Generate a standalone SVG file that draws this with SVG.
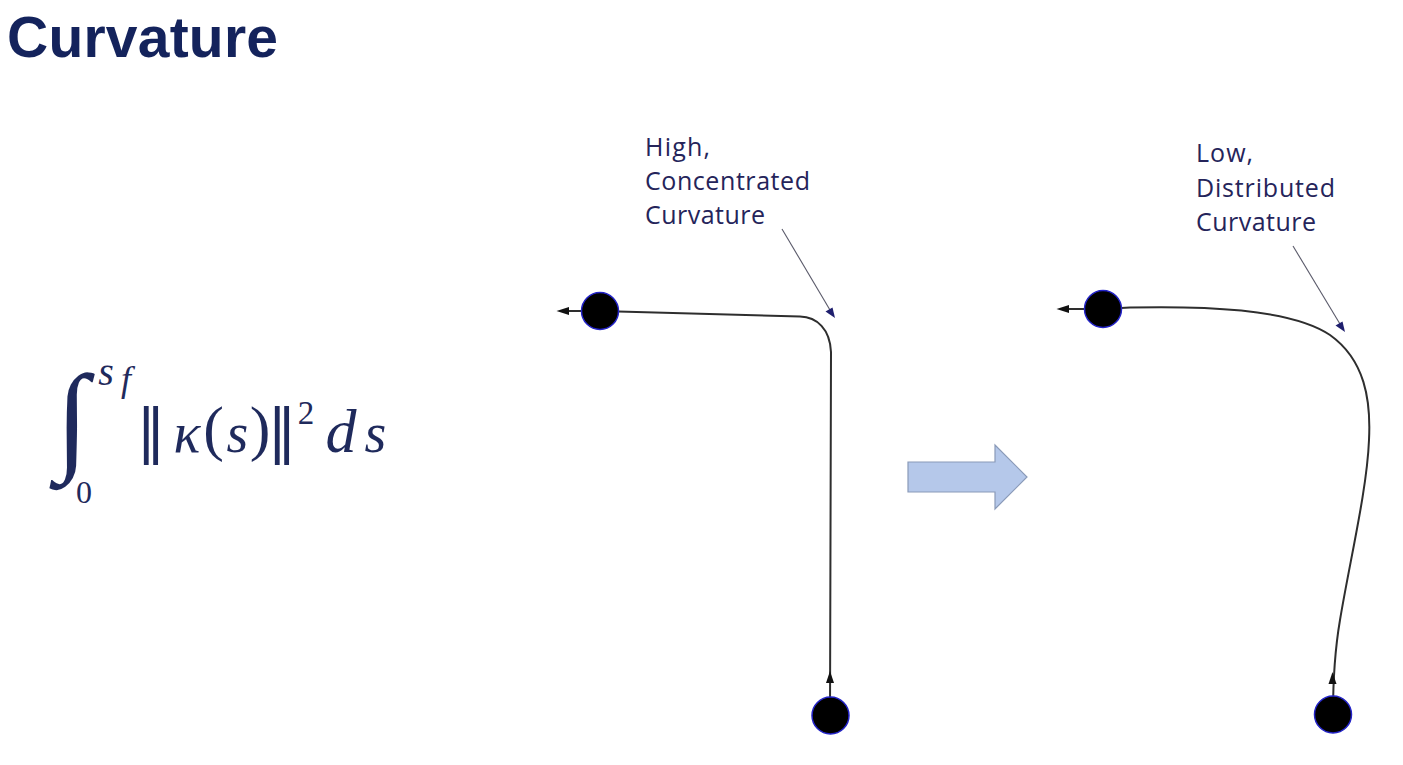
<svg xmlns="http://www.w3.org/2000/svg" width="1403" height="765" viewBox="0 0 1403 765">
<style>
.title{font-family:"Liberation Sans",Arial,sans-serif;font-weight:bold;font-size:57px;fill:#14235c}
.lbl{font-family:"Open Sans","Liberation Sans",Arial,sans-serif;font-size:25px;fill:#25245a}
.m{font-family:"Liberation Serif","DejaVu Serif",serif;font-size:56px;fill:#1f2a5c;text-anchor:middle}
.mi{font-style:italic}
.bar{font-family:"DejaVu Sans",sans-serif;font-size:58px}
.curve{fill:none;stroke:#2e2e2e;stroke-width:2}
.ptr{fill:none;stroke:#5a5a6a;stroke-width:1.1}
.ptrhead{fill:#1f1f6e}
.head{fill:#111}
.dot{fill:#000;stroke:#2424c8;stroke-width:1.5}
</style>
<rect width="1403" height="765" fill="#fff"/>
<text class="title" x="7" y="57" textLength="271">Curvature</text>

<g id="formula">
<text class="m" x="72" y="458" style="font-size:120px">∫</text>
<text class="m mi" x="106" y="385" style="font-size:40px">s</text>
<text class="m mi" x="126" y="391" style="font-size:36px">f</text>
<text class="m" x="84" y="503" style="font-size:32px">0</text>
<text class="m bar" x="151" y="451">‖</text>
<text class="m mi" x="187" y="452">κ</text>
<text class="m" x="213.5" y="449" style="font-size:62px">(</text>
<text class="m mi" x="237.5" y="452">s</text>
<text class="m" x="260" y="449" style="font-size:62px">)</text>
<text class="m bar" x="282" y="451">‖</text>
<text class="m" x="306" y="424" style="font-size:33px">2</text>
<text class="m mi" x="341" y="452" style="font-size:62px">d</text>
<text class="m mi" x="375.5" y="452">s</text>
</g>

<g id="labels">
<text class="lbl" x="645" y="156" textLength="65">High,</text>
<text class="lbl" x="645" y="190" textLength="165">Concentrated</text>
<text class="lbl" x="645" y="224" textLength="120">Curvature</text>
<text class="lbl" x="1196" y="162" textLength="57">Low,</text>
<text class="lbl" x="1196" y="197" textLength="139">Distributed</text>
<text class="lbl" x="1196" y="231" textLength="120">Curvature</text>
</g>

<g id="connectors">
<path class="curve" d="M600,311 L800,316.5 C817,317 830,329 831,352 L830,716"/>
<path class="curve" d="M568,311 L600,311"/>
<path class="curve" d="M1103,309 L1130,307.5 C1200,306 1290,308 1330,335 C1365,360 1371,400 1369,440 C1367,490 1350,560 1340,620 C1334,655 1333,690 1333,714"/>
<path class="curve" d="M1068,309 L1103,309"/>
<line class="ptr" x1="782" y1="229" x2="830" y2="310"/>
<line class="ptr" x1="1293" y1="246" x2="1340" y2="324"/>
</g>

<g id="arrowheads">
<polygon class="head" points="556.5,311 569,307 569,315"/>
<polygon class="head" points="1056.5,309 1069,305 1069,313"/>
<polygon class="head" points="830,671 826,683 834,683"/>
<polygon class="head" points="1332.5,672 1328.5,684 1336.5,684"/>
<polygon class="ptrhead" points="835,318 825.5,311.5 832.5,307.5"/>
<polygon class="ptrhead" points="1345,332 1335.5,325.5 1342.5,321.5"/>
</g>

<g id="node-left-start"><circle class="dot" cx="600" cy="311" r="18.5"/></g>
<g id="node-left-end"><circle class="dot" cx="830.5" cy="715.5" r="18.5"/></g>
<g id="node-right-start"><circle class="dot" cx="1103" cy="309" r="18.5"/></g>
<g id="node-right-end"><circle class="dot" cx="1333" cy="714.5" r="18.5"/></g>

<g id="block-arrow">
<polygon points="908,462 995,462 995,445 1027,477 995,509 995,492 908,492" fill="#b5c8ea" stroke="#8a9ab8" stroke-width="1.2"/>
</g>
</svg>
